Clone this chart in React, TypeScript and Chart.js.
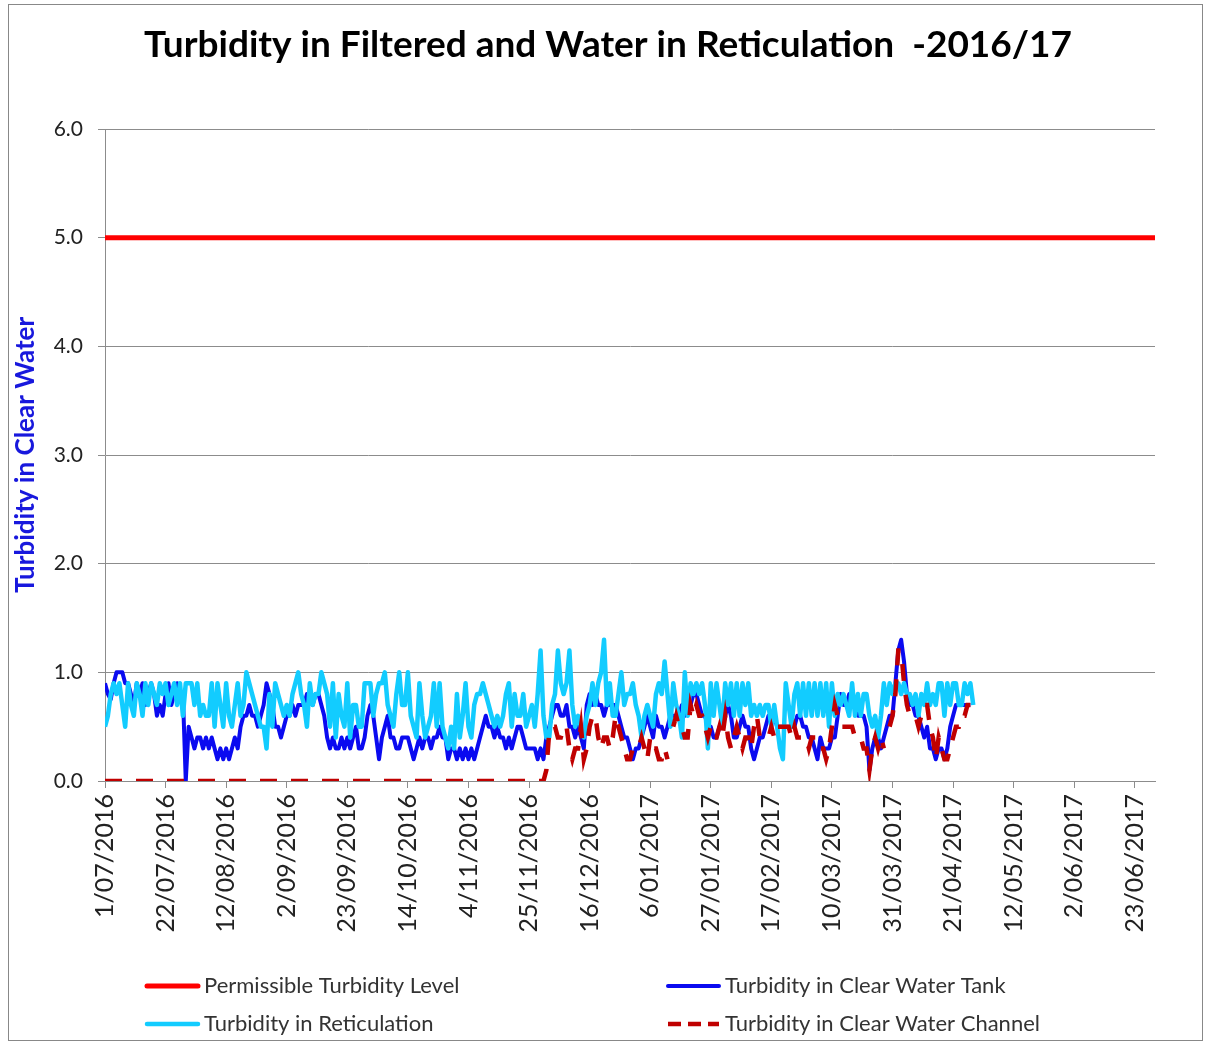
import React, { useEffect, useRef } from "react";
import { Chart, registerables } from "chart.js";

Chart.register(...registerables);

// ---------------- DATA ----------------
const chartTitle = "Turbidity in Filtered and Water in Reticulation  -2016/17";
const yAxisTitle = "Turbidity in Clear Water";

// x tick labels, one every 21 days starting 1/07/2016 (day index 0)
const tickLabels = [
  "1/07/2016", "22/07/2016", "12/08/2016", "2/09/2016", "23/09/2016", "14/10/2016",
  "4/11/2016", "25/11/2016", "16/12/2016", "6/01/2017", "27/01/2017", "17/02/2017",
  "10/03/2017", "31/03/2017", "21/04/2017", "12/05/2017", "2/06/2017", "23/06/2017",
];
const tickStepDays = 21;
const lastDayIndex = 364; // 30/06/2017
const yTickLabels = ["0.0", "1.0", "2.0", "3.0", "4.0", "5.0", "6.0"];

const legendNames = [
  "Permissible Turbidity Level",
  "Turbidity in Clear Water Tank",
  "Turbidity in Reticulation",
  "Turbidity in Clear Water Channel",
];

// permissible level: start and end day
const permissibleDays = [0, 364];
const permissibleValues = [5.0, 5.0];

// daily values from day 0 (1/07/2016)
const clearWaterTank = [
  0.9, 0.8, 0.75, 0.9, 1.0, 1.0, 1.0, 0.9, 0.9, 0.8,
  0.7, 0.9, 0.8, 0.9, 0.7, 0.8, 0.9, 0.8, 0.6, 0.7,
  0.6, 0.8, 0.9, 0.7, 0.8, 0.9, 0.8, 0.8, 0.0,
  0.5, 0.4, 0.3, 0.4, 0.4, 0.3, 0.4, 0.3, 0.4, 0.3, 0.2, 0.3, 0.2, 0.3, 0.2,
  0.3, 0.4, 0.3, 0.5, 0.6, 0.6, 0.7, 0.6, 0.6, 0.5, 0.6, 0.7, 0.9,
  0.8, 0.7, 0.5, 0.5, 0.4, 0.5, 0.6, 0.6, 0.7, 0.6, 0.7, 0.7, 0.7, 0.8, 0.8,
  0.7, 0.8, 0.8, 0.7, 0.6, 0.4, 0.3, 0.4, 0.3, 0.3, 0.4, 0.3, 0.4, 0.3, 0.4,
  0.5, 0.3, 0.3, 0.4, 0.6, 0.7, 0.6, 0.4, 0.2, 0.4, 0.5, 0.6, 0.4, 0.4, 0.3,
  0.3, 0.4, 0.4, 0.4, 0.3, 0.2, 0.3, 0.4, 0.3, 0.4, 0.4, 0.3, 0.4, 0.4,
  0.5, 0.4, 0.4, 0.2, 0.3, 0.3, 0.2, 0.3, 0.2, 0.3, 0.2, 0.3, 0.2, 0.3,
  0.4, 0.5, 0.6, 0.5, 0.5, 0.4, 0.5, 0.4, 0.4, 0.3, 0.4, 0.3, 0.4, 0.5,
  0.5, 0.4, 0.3, 0.3, 0.3, 0.3, 0.2, 0.3, 0.2, 0.4, 0.5, 0.6, 0.7, 0.7, 0.6, 0.6,
  0.7, 0.5, 0.5, 0.4, 0.5, 0.4, 0.3, 0.7, 0.8, 0.7, 0.8, 0.7, 0.7, 0.6, 0.7, 0.7,
  0.7, 0.7, 0.6, 0.5, 0.4, 0.4, 0.3, 0.2, 0.3, 0.3, 0.4, 0.5, 0.6, 0.5, 0.4,
  0.6, 0.5, 0.5, 0.4, 0.5, 0.6, 0.6, 0.6, 0.6, 0.7, 0.6, 0.7, 0.7, 0.8, 0.8,
  0.7, 0.6, 0.6, 0.5, 0.5, 0.4, 0.4, 0.5, 0.5, 0.6, 0.7, 0.6, 0.4, 0.4, 0.5,
  0.6, 0.5, 0.5, 0.3, 0.2, 0.3, 0.4, 0.4, 0.5, 0.6, 0.6, 0.6, 0.5, 0.5, 0.5,
  0.5, 0.5, 0.5, 0.5, 0.6, 0.6, 0.5, 0.5, 0.4, 0.4, 0.3, 0.2, 0.4, 0.3, 0.3,
  0.3, 0.4, 0.4, 0.6, 0.8, 0.7, 0.7, 0.8, 0.7, 0.7, 0.6, 0.6, 0.6, 0.5,
  0.1, 0.3, 0.4, 0.4, 0.3, 0.4, 0.5, 0.6, 0.6, 0.9, 1.2, 1.3, 1.1, 0.8, 0.7,
  0.7, 0.6, 0.6, 0.5, 0.4, 0.5, 0.3, 0.3, 0.2, 0.3,
  0.3, 0.2, 0.3, 0.5, 0.6, 0.7, 0.7, 0.7, 0.7, 0.7, 0.7,
];

const reticulation = [
  0.5, 0.6, 0.8, 0.9, 0.8, 0.9, 0.7, 0.5, 0.9, 0.7, 0.6, 0.9, 0.8, 0.6, 0.9,
  0.7, 0.9, 0.8, 0.7, 0.9, 0.8, 0.9, 0.7, 0.8, 0.9, 0.7, 0.9, 0.6, 0.9,
  0.9, 0.9, 0.7, 0.9, 0.6, 0.7, 0.6, 0.6, 0.9, 0.5, 0.9, 0.7, 0.5, 0.9,
  0.6, 0.5, 0.7, 0.9, 0.6, 0.7, 1.0, 0.9, 0.8, 0.7, 0.6, 0.5, 0.5, 0.3,
  0.8, 0.5, 0.9, 0.8, 0.7, 0.6, 0.7, 0.6, 0.8, 0.9, 1.0, 0.8, 0.7, 0.5, 0.9,
  0.7, 0.8, 0.8, 1.0, 0.9, 0.8, 0.5, 0.9, 0.4, 0.8, 0.6, 0.5, 0.9, 0.4, 0.7,
  0.7, 0.5, 0.5, 0.9, 0.9, 0.9, 0.6, 0.8, 0.9, 0.9, 1.0, 0.7, 0.6, 0.5, 0.8,
  1.0, 0.7, 0.7, 1.0, 0.6, 0.5, 0.4, 0.9, 0.6, 0.4, 0.5, 0.6, 0.9, 0.5, 0.9,
  0.5, 0.4, 0.3, 0.5, 0.3, 0.8, 0.4, 0.6, 0.9, 0.5, 0.4, 0.7, 0.8, 0.8,
  0.9, 0.8, 0.7, 0.6, 0.5, 0.6, 0.5, 0.6, 0.8, 0.9, 0.5, 0.8, 0.6,
  0.6, 0.8, 0.5, 0.6, 0.7, 0.5, 0.8, 1.2, 0.6, 0.4, 0.4, 0.7, 0.8, 1.2, 0.9, 0.8,
  0.9, 1.2, 0.7, 0.5, 0.6, 0.5, 0.4, 0.6, 0.7, 0.9, 0.7, 0.9, 1.0, 1.3, 0.7, 0.9,
  0.6, 0.6, 0.8, 1.0, 0.7, 0.8, 0.8, 0.9, 0.7, 0.6, 0.4, 0.6, 0.7, 0.6, 0.5,
  0.8, 0.9, 0.8, 1.1, 0.8, 0.5, 0.9, 0.7, 0.6, 0.4, 1.0, 0.6, 0.9, 0.8, 0.9,
  0.8, 0.9, 0.7, 0.3, 0.9, 0.6, 0.9, 0.7, 0.5, 0.9, 0.7, 0.9, 0.6, 0.9, 0.6,
  0.9, 0.7, 0.9, 0.6, 0.7, 0.6, 0.7, 0.6, 0.7, 0.7, 0.5, 0.7, 0.5, 0.3, 0.2,
  0.9, 0.7, 0.5, 0.8, 0.9, 0.6, 0.9, 0.6, 0.9, 0.6, 0.9, 0.6, 0.9, 0.6,
  0.9, 0.5, 0.9, 0.6, 0.8, 0.7, 0.8, 0.7, 0.6, 0.9, 0.6, 0.8, 0.6, 0.8,
  0.8, 0.6, 0.5, 0.6, 0.4, 0.6, 0.9, 0.7, 0.9, 0.8, 0.9, 0.9, 0.8,
  0.9, 0.8, 0.8, 0.7, 0.8, 0.6, 0.8, 0.7, 0.9, 0.7, 0.8, 0.7, 0.9,
  0.9, 0.6, 0.9, 0.7, 0.9, 0.9, 0.7, 0.7, 0.9, 0.8, 0.9, 0.7,
];

const clearWaterChannel = [
  0, 0, 0, 0, 0, 0, 0, 0, 0, 0, 0, 0, 0, 0, 0, 0, 0, 0, 0, 0,
  0, 0, 0, 0, 0, 0, 0, 0, 0, 0, 0, 0, 0, 0, 0, 0, 0, 0, 0, 0,
  0, 0, 0, 0, 0, 0, 0, 0, 0, 0, 0, 0, 0, 0, 0, 0, 0, 0, 0, 0,
  0, 0, 0, 0, 0, 0, 0, 0, 0, 0, 0, 0, 0, 0, 0, 0, 0, 0, 0, 0,
  0, 0, 0, 0, 0, 0, 0, 0, 0, 0, 0, 0, 0, 0, 0, 0, 0, 0, 0, 0,
  0, 0, 0, 0, 0, 0, 0, 0, 0, 0, 0, 0, 0, 0, 0, 0, 0, 0, 0, 0,
  0, 0, 0, 0, 0, 0, 0, 0, 0, 0, 0, 0, 0, 0, 0, 0, 0, 0, 0, 0,
  0, 0, 0, 0, 0, 0, 0, 0, 0, 0, 0, 0, 0,
  0.1, 0.45, 0.5, 0.5, 0.4, 0.4, 0.5, 0.5, 0.3, 0.2, 0.3, 0.3, 0.5, 0.2, 0.3,
  0.5, 0.6, 0.6, 0.4, 0.3, 0.4, 0.4, 0.3,
  0.4, 0.6, 0.5, 0.4, 0.3, 0.2, 0.2, 0.3, 0.3, 0.3, 0.4, 0.3, 0.2, 0.4, 0.3,
  0.3, 0.2, 0.2, 0.3, 0.2, null, 0.5, 0.6, 0.5, 0.5, 0.4, 0.4, 0.7, 0.6, 0.7,
  0.6, 0.6, 0.5, 0.4, 0.5, 0.4, 0.4, 0.5, 0.4, 0.6, 0.4, 0.3, 0.4, 0.5, 0.4,
  0.3, 0.4, 0.4, 0.3, 0.5, 0.6, 0.4, 0.4, 0.4, 0.4, 0.5, 0.4, 0.5, 0.5, 0.5,
  0.5, 0.5, 0.4, 0.5, 0.4, 0.4, 0.4, 0.4, 0.3, 0.4, 0.4, 0.4, 0.3, 0.3,
  0.2, 0.3, 0.5, 0.7, 0.6, 0.5, 0.5, 0.5, 0.5, 0.5, 0.4, 0.4, 0.4, 0.3,
  0.3, 0.1, 0.3, 0.4, 0.3, 0.4, 0.3, null, 0.5, 0.6, 0.8, 1.2, 1.2, 0.9, 0.7,
  0.6, 0.6, 0.6, 0.5, 0.6, 0.7, 0.7, 0.5, 0.4, 0.2,
  0.4, 0.3, 0.2, 0.2, 0.3, 0.4, 0.5, 0.5, 0.6, 0.6, 0.7, 0.7,
];

// ---------------- STYLE ----------------
const FONT = "Lato, 'Open Sans', sans-serif";
const RED = "#FF0000";
const BLUE = "#0A0AF0";
const CYAN = "#12CCFF";
const DARKRED = "#C00000";
const GRID = "#8C8C8C";

const toPoints = (vals: (number | null)[]) => vals.map((v, i) => ({ x: i, y: v }));

const decorPlugin = {
  id: "titleLegendFrame",
  beforeDraw(chart: any) {
    const ctx = chart.ctx;
    ctx.save();
    ctx.fillStyle = "#ffffff";
    ctx.fillRect(0, 0, chart.width, chart.height);
    ctx.strokeStyle = "#888888";
    ctx.lineWidth = 1;
    ctx.strokeRect(8.5, 4.5, 1194, 1036);
    // title
    ctx.fillStyle = "#000000";
    ctx.font = `bold 37px ${FONT}`;
    ctx.textAlign = "center";
    ctx.textBaseline = "alphabetic";
    ctx.fillText(chartTitle, 608, 57);
    ctx.restore();
  },
  afterDraw(chart: any) {
    const ctx = chart.ctx;
    ctx.save();
    const items = [
      { x: 147, y: 986, color: RED, width: 5, dash: [] as number[] },
      { x: 668, y: 986, color: BLUE, width: 4, dash: [] as number[] },
      { x: 147, y: 1024, color: CYAN, width: 4.5, dash: [] as number[] },
      { x: 668, y: 1024, color: DARKRED, width: 4.5, dash: [13, 7] },
    ];
    items.forEach((it, i) => {
      ctx.beginPath();
      ctx.setLineDash(it.dash);
      ctx.lineCap = it.dash.length ? "butt" : "round";
      ctx.strokeStyle = it.color;
      ctx.lineWidth = it.width;
      ctx.moveTo(it.x, it.y);
      ctx.lineTo(it.x + 51, it.y);
      ctx.stroke();
      ctx.setLineDash([]);
      ctx.fillStyle = "#333333";
      ctx.font = `22px ${FONT}`;
      ctx.textBaseline = "middle";
      ctx.textAlign = "left";
      ctx.fillText(legendNames[i], it.x + 57, it.y);
    });
    ctx.restore();
  },
};

export default function App() {
  const ref = useRef<HTMLCanvasElement | null>(null);

  useEffect(() => {
    if (!ref.current) return;
    const chart = new Chart(ref.current, {
      type: "line",
      data: {
        datasets: [
          {
            label: legendNames[0],
            data: permissibleDays.map((d, i) => ({ x: d, y: permissibleValues[i] })),
            borderColor: RED,
            borderWidth: 5,
            pointRadius: 0,
            order: 3,
          },
          {
            label: legendNames[1],
            data: toPoints(clearWaterTank),
            borderColor: BLUE,
            borderWidth: 4,
            pointRadius: 0,
            borderJoinStyle: "round",
            order: 2,
          },
          {
            label: legendNames[2],
            data: toPoints(reticulation),
            borderColor: CYAN,
            borderWidth: 4.5,
            pointRadius: 0,
            borderJoinStyle: "round",
            order: 1,
          },
          {
            label: legendNames[3],
            data: toPoints(clearWaterChannel),
            borderColor: DARKRED,
            borderWidth: 4.5,
            borderDash: [17, 14],
            pointRadius: 0,
            spanGaps: false,
            order: 0,
          },
        ],
      } as any,
      options: {
        responsive: false,
        animation: false,
        devicePixelRatio: 1,
        layout: { padding: { left: 8, right: 50, top: 129, bottom: 0 } },
        plugins: {
          legend: { display: false },
          tooltip: { enabled: false },
          title: { display: false },
        },
        scales: {
          x: {
            type: "linear",
            min: 0,
            max: lastDayIndex,
            afterBuildTicks: (scale: any) => {
              scale.ticks = tickLabels.map((_, i) => ({ value: i * tickStepDays }));
            },
            afterFit: (scale: any) => {
              scale.height = 264;
            },
            ticks: {
              autoSkip: false,
              minRotation: 90,
              maxRotation: 90,
              padding: 6,
              color: "#222222",
              font: { family: FONT, size: 25 },
              callback: (v: any) => tickLabels[Math.round(Number(v) / tickStepDays)],
            },
            grid: {
              drawOnChartArea: false,
              drawTicks: true,
              tickLength: 7,
              color: GRID,
            },
            border: { display: true, color: GRID, width: 1 },
          },
          y: {
            min: 0,
            max: 6,
            afterBuildTicks: (scale: any) => {
              scale.ticks = yTickLabels.map((_, i) => ({ value: i }));
            },
            afterFit: (scale: any) => {
              scale.width = 97;
            },
            ticks: {
              padding: 15,
              color: "#222222",
              font: { family: FONT, size: 21 },
              callback: (v: any) => yTickLabels[Math.round(Number(v))],
            },
            grid: { color: GRID, tickLength: 7, lineWidth: 1 },
            border: { display: true, color: GRID, width: 1 },
            title: {
              display: true,
              text: yAxisTitle,
              color: "#1818DD",
              font: { family: FONT, size: 26, weight: "bold" },
              padding: { top: 2, bottom: 0 },
            },
          },
        },
      },
      plugins: [decorPlugin],
    } as any);
    return () => chart.destroy();
  }, []);

  return (
    <div style={{ position: "absolute", left: 0, top: 0, width: 1205, height: 1045, background: "#fff" }}>
      <canvas ref={ref} width={1205} height={1045} style={{ display: "block", width: 1205, height: 1045 }} />
    </div>
  );
}
